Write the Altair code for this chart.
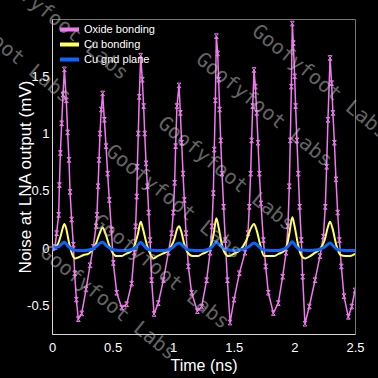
import altair as alt
import pandas as pd

# ---------------- data ----------------
series_names = ["Oxide bonding", "Cu bonding", "Cu gnd plane"]
series_colors = ["#ee7aee", "#ffff5e", "#0a64ff"]

time_oxide = [
    0, 0.025, 0.038, 0.055, 0.061, 0.069, 0.080, 0.091, 0.102,
    0.118, 0.129, 0.140, 0.149, 0.162, 0.176, 0.187, 0.201, 0.217,
    0.245, 0.281, 0.314, 0.341, 0.363, 0.371, 0.380, 0.388, 0.396, 0.407, 0.418,
    0.432, 0.446, 0.459, 0.473, 0.490, 0.506, 0.534, 0.575,
    0.616, 0.657, 0.679, 0.690, 0.699, 0.704, 0.712, 0.720, 0.732,
    0.745, 0.756, 0.765, 0.776, 0.787, 0.798, 0.809, 0.822, 0.842,
    0.877, 0.919, 0.960, 0.987, 1.001, 1.012, 1.020, 1.031, 1.048,
    1.059, 1.070, 1.081, 1.092, 1.106, 1.125, 1.152, 1.199,
    1.235, 1.276, 1.304, 1.320, 1.331, 1.339, 1.348, 1.356,
    1.367, 1.375, 1.383, 1.392, 1.403, 1.416, 1.430, 1.447, 1.469,
    1.502, 1.546, 1.592, 1.617, 1.628, 1.639, 1.647, 1.656, 1.667,
    1.678, 1.689, 1.700, 1.711, 1.724, 1.744, 1.763, 1.785, 1.826,
    1.867, 1.903, 1.931, 1.947, 1.958, 1.966, 1.975, 1.983,
    1.991, 2.002, 2.010, 2.021, 2.032, 2.043, 2.057, 2.068, 2.087,
    2.123, 2.170, 2.211, 2.239, 2.255, 2.266, 2.277, 2.294,
    2.307, 2.318, 2.330, 2.343, 2.357, 2.371, 2.387, 2.409, 2.445,
    2.473, 2.500,
]
noise_oxide = [
    0, 0.01, 0.13, 0.29, 0.55, 0.83, 1.09, 1.34, 1.56,
    1.29, 1.01, 0.77, 0.49, 0.25, 0.03, -0.22, -0.45, -0.62,
    -0.57, -0.36, -0.15, 0.01, 0.19, 0.29, 0.54, 0.77, 1.00, 1.21, 1.35,
    1.12, 0.89, 0.65, 0.42, 0.16, -0.13, -0.39, -0.52,
    -0.49, -0.31, -0.04, 0.19, 0.45, 0.71, 1.00, 1.32, 1.68,
    1.47, 1.24, 1.00, 0.74, 0.54, 0.31, 0.07, -0.28, -0.575,
    -0.48, -0.28, -0.04, 0.13, 0.31, 0.57, 0.89, 1.24, 1.42,
    1.18, 0.92, 0.65, 0.42, 0.13, -0.16, -0.39, -0.55,
    -0.51, -0.28, -0.04, 0.19, 0.48, 0.86, 1.29, 1.85,
    1.70, 1.47, 1.21, 0.94, 0.65, 0.36, 0.07, -0.28, -0.65,
    -0.45, -0.22, -0.04, 0.13, 0.36, 0.65, 0.94, 1.24, 1.555,
    1.41, 1.18, 0.92, 0.65, 0.39, 0.07, -0.16, -0.39, -0.567,
    -0.48, -0.25, -0.04, 0.19, 0.54, 0.94, 1.41, 1.96,
    1.79, 1.50, 1.24, 0.94, 0.65, 0.36, 0.07, -0.25, -0.66,
    -0.51, -0.28, -0.07, 0.10, 0.36, 0.71, 1.12, 1.66,
    1.44, 1.18, 0.92, 0.60, 0.31, 0.07, -0.16, -0.42, -0.60,
    -0.51, -0.37,
]

time_cu = [
    0, 0.04, 0.07, 0.09, 0.102, 0.115, 0.14, 0.165, 0.19, 0.22, 0.26, 0.30,
    0.33, 0.36, 0.39, 0.418, 0.44, 0.47, 0.50, 0.53, 0.57, 0.61, 0.65,
    0.68, 0.71, 0.732, 0.75, 0.78, 0.81, 0.84, 0.87, 0.91, 0.95,
    0.98, 1.01, 1.03, 1.048, 1.065, 1.09, 1.12, 1.16, 1.20, 1.24, 1.28,
    1.31, 1.335, 1.356, 1.375, 1.40, 1.43, 1.46, 1.50, 1.55,
    1.60, 1.64, 1.667, 1.69, 1.72, 1.75, 1.79, 1.83, 1.87, 1.91,
    1.94, 1.96, 1.983, 2.00, 2.03, 2.06, 2.09, 2.13, 2.17, 2.21,
    2.25, 2.275, 2.294, 2.315, 2.345, 2.38, 2.42, 2.46, 2.50,
]
noise_cu = [
    0, 0.02, 0.10, 0.18, 0.21, 0.18, 0.05, -0.05, -0.09, -0.08, -0.06, -0.05,
    -0.02, 0.03, 0.12, 0.18, 0.13, 0.03, -0.04, -0.07, -0.07, -0.05, -0.03,
    0.02, 0.13, 0.23, 0.17, 0.04, -0.05, -0.09, -0.07, -0.05, -0.03,
    0.01, 0.08, 0.16, 0.19, 0.15, 0.04, -0.04, -0.07, -0.07, -0.05, -0.03,
    0.02, 0.13, 0.26, 0.18, 0.04, -0.05, -0.07, -0.05, -0.02,
    0.06, 0.17, 0.21, 0.15, 0.02, -0.07, -0.07, -0.07, -0.05, -0.03,
    0.03, 0.14, 0.27, 0.20, 0.03, -0.07, -0.09, -0.07, -0.04, -0.01,
    0.07, 0.18, 0.23, 0.17, 0.03, -0.06, -0.07, -0.07, -0.05,
]

time_gnd = [
    0, 0.05, 0.08, 0.102, 0.13, 0.17, 0.21, 0.27, 0.33, 0.37, 0.40, 0.418,
    0.45, 0.49, 0.55, 0.62, 0.68, 0.71, 0.732, 0.76, 0.80, 0.86, 0.93,
    0.99, 1.02, 1.048, 1.08, 1.12, 1.18, 1.25, 1.31, 1.335, 1.356, 1.39,
    1.43, 1.50, 1.56, 1.62, 1.667, 1.70, 1.74, 1.80, 1.87, 1.93, 1.96,
    1.983, 2.01, 2.05, 2.12, 2.19, 2.25, 2.294, 2.32, 2.36, 2.42, 2.50,
]
noise_gnd = [
    0, 0.01, 0.035, 0.05, 0.02, -0.015, -0.02, -0.02, -0.01, 0.02, 0.045, 0.05,
    0.02, -0.01, -0.02, -0.02, 0.0, 0.03, 0.05, 0.02, -0.015, -0.02, -0.02,
    0.0, 0.03, 0.045, 0.02, -0.015, -0.02, -0.02, 0.0, 0.03, 0.05, 0.02,
    -0.01, -0.02, -0.015, 0.01, 0.045, 0.02, -0.015, -0.02, -0.02, 0.0, 0.03,
    0.055, 0.02, -0.015, -0.02, -0.015, 0.01, 0.045, 0.02, -0.015, -0.02, -0.02,
]

x_ticks = [0, 0.5, 1, 1.5, 2, 2.5]
y_ticks = [-0.5, 0, 0.5, 1, 1.5]
watermark_text = "Goofyfoot Labs"

# ---------------- tables ----------------
df_ox = pd.DataFrame({"t": time_oxide, "v": noise_oxide, "series": series_names[0]})
df_cu = pd.DataFrame({"t": time_cu, "v": noise_cu, "series": series_names[1]})
df_gnd = pd.DataFrame({"t": time_gnd, "v": noise_gnd, "series": series_names[2]})

FONT = "Liberation Sans, Arial, sans-serif"

x_enc = alt.X(
    "t:Q",
    scale=alt.Scale(domain=[0, 2.5], nice=False, zero=False),
    axis=alt.Axis(
        values=x_ticks, labelExpr="'' + datum.value", title="Time (ns)",
        labelColor="white", labelFont=FONT, labelFontSize=13, labelPadding=7,
        labelFlush=False,
        titleColor="white", titleFont=FONT, titleFontSize=16, titleFontWeight="normal",
        titleY=31, titleBaseline="middle",
        ticks=False, grid=False, domainColor="#d8d8d8", domainWidth=1,
    ),
)
y_enc = alt.Y(
    "v:Q",
    scale=alt.Scale(domain=[-0.75, 2.0], nice=False, zero=False),
    axis=alt.Axis(
        values=y_ticks, labelExpr="'' + datum.value", title="Noise at LNA output (mV)",
        labelColor="white", labelFont=FONT, labelFontSize=13, labelPadding=3,
        labelFlush=False,
        titleColor="white", titleFont=FONT, titleFontSize=17, titleFontWeight="normal",
        titleX=-27, titleBaseline="middle",
        ticks=False, grid=False, domainColor="#d8d8d8", domainWidth=1,
    ),
)

legend = alt.Legend(
    title=None, orient="none", legendX=6, legendY=3,
    symbolType="stroke", symbolSize=361, symbolStrokeWidth=4,
    labelColor="white", labelFont=FONT, labelFontSize=11, labelOffset=3,
    clipHeight=15, rowPadding=0, padding=0,
)
color_enc = alt.Color(
    "series:N",
    scale=alt.Scale(domain=series_names, range=series_colors),
    legend=legend,
)

marker_path = "M-0.8,-1L0.8,-1M-0.8,1L0.8,1M-0.8,-1L0.8,1M0.8,-1L-0.8,1"

ox_line = alt.Chart(df_ox).mark_line(strokeWidth=1.5, clip=True).encode(
    x=x_enc, y=y_enc, color=color_enc
)
ox_pts = alt.Chart(df_ox).mark_point(
    shape=marker_path, size=22, filled=False, strokeWidth=1, color=series_colors[0],
    opacity=1, clip=True,
).encode(x="t:Q", y="v:Q")
cu_line = alt.Chart(df_cu).mark_line(strokeWidth=2, interpolate="monotone", clip=True).encode(
    x="t:Q", y="v:Q", color=color_enc
)
gnd_line = alt.Chart(df_gnd).mark_line(strokeWidth=3, interpolate="monotone", clip=True).encode(
    x="t:Q", y="v:Q", color=color_enc
)

# watermark (decoration), positions relative to plot origin
wm_positions = [(-49, 27), (8, 4), (268, 63), (212, 91), (174, 155), (122, 183), (109, 253), (56, 284)]
wm_layers = []
for px, py in wm_positions:
    wm_layers.append(
        alt.Chart(pd.DataFrame({"label": [watermark_text]})).mark_text(
            font="DejaVu Sans Mono", fontSize=20, angle=39, align="center",
            baseline="middle", color="#c8c8c8", opacity=0.5,
        ).encode(text="label:N", x=alt.value(px), y=alt.value(py))
    )

chart = alt.layer(ox_line, ox_pts, cu_line, gnd_line, *wm_layers).properties(
    width=303, height=315,
    background="black",
    autosize=alt.AutoSizeParams(type="none"),
    padding={"left": 52, "top": 19, "right": 23, "bottom": 44},
).configure_view(stroke="#777777", strokeWidth=1)

chart.save("out.html", embed_options={"renderer": "svg", "actions": False})
